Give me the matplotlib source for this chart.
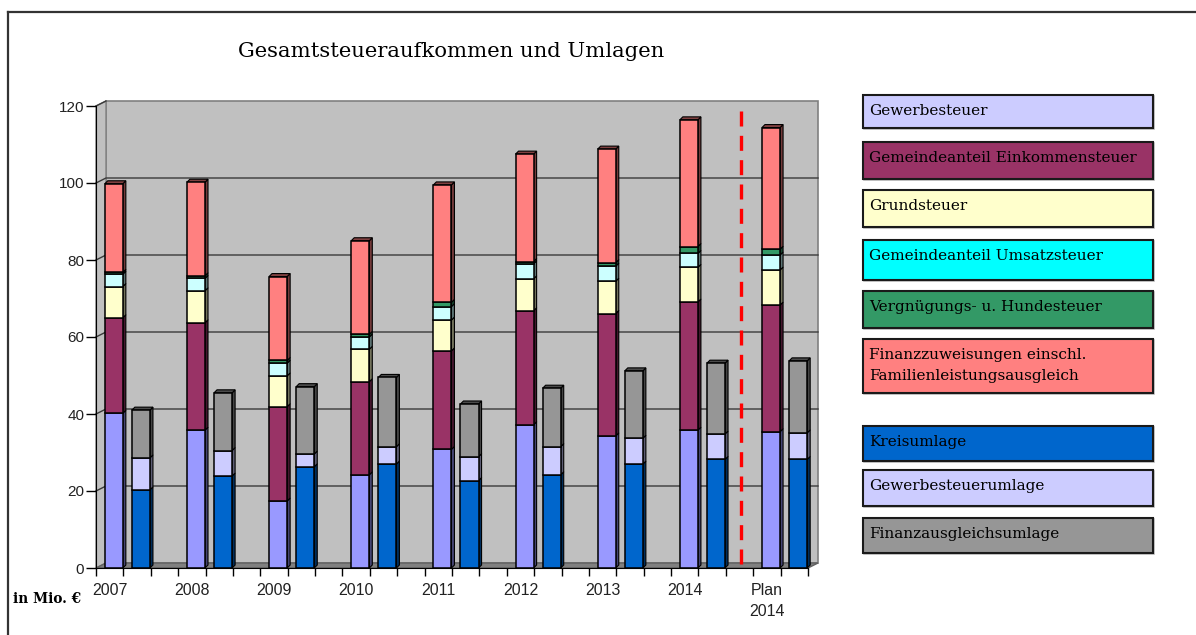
import matplotlib
matplotlib.use("Agg")
import matplotlib.pyplot as plt
from matplotlib.patches import Rectangle, Polygon
import numpy as np

# ---------------- data ----------------
years = ["2007", "2008", "2009", "2010", "2011", "2012", "2013", "2014", "Plan\n2014"]

gewerbesteuer = [40.2, 35.8, 17.4, 24.2, 30.8, 37.2, 34.3, 35.8, 35.4]
einkommensteuer = [24.8, 27.9, 24.5, 24.2, 25.6, 29.6, 31.8, 33.3, 32.9]
grundsteuer = [8.1, 8.3, 8.0, 8.4, 8.0, 8.3, 8.4, 9.0, 9.1]
umsatzsteuer = [3.2, 3.2, 3.3, 3.2, 3.5, 3.9, 3.9, 3.6, 3.9]
vergnuegung_hund = [0.5, 0.7, 0.7, 0.7, 1.1, 0.6, 0.9, 1.8, 1.5]
finanzzuweisungen = [23.0, 24.3, 21.8, 24.3, 30.5, 27.9, 29.5, 32.9, 31.6]

kreisumlage = [20.3, 23.9, 26.3, 27.0, 22.7, 24.2, 27.0, 28.2, 28.2]
gewerbesteuerumlage = [8.3, 6.6, 3.3, 4.5, 6.2, 7.3, 6.7, 6.6, 6.9]
finanzausgleichsumlage = [12.4, 15.0, 17.5, 18.0, 13.7, 15.2, 17.5, 18.4, 18.7]

tax_series = [
    ("Gewerbesteuer", gewerbesteuer, "#9999FF", "#CCCCFF"),
    ("Gemeindeanteil Einkommensteuer", einkommensteuer, "#993366", "#993366"),
    ("Grundsteuer", grundsteuer, "#FFFFCC", "#FFFFCC"),
    ("Gemeindeanteil Umsatzsteuer", umsatzsteuer, "#CCFFFF", "#00FFFF"),
    ("Vergnügungs- u. Hundesteuer", vergnuegung_hund, "#339966", "#339966"),
    ("Finanzzuweisungen einschl.\nFamilienleistungsausgleich", finanzzuweisungen, "#FF8080", "#FF8080"),
]
umlage_series = [
    ("Kreisumlage", kreisumlage, "#0066CC", "#0066CC"),
    ("Gewerbesteuerumlage", gewerbesteuerumlage, "#CCCCFF", "#CCCCFF"),
    ("Finanzausgleichsumlage", finanzausgleichsumlage, "#969696", "#969696"),
]

y_ticks = [0, 20, 40, 60, 80, 100, 120]

# ---------------- layout ----------------
W, H = 1196, 635
fig = plt.figure(figsize=(W / 100, H / 100), dpi=100)

ax_l, ax_r, ax_b, ax_t = 96, 808, 568, 106  # pixel frame of front plane
ax = fig.add_axes([ax_l / W, (H - ax_b) / H, (ax_r - ax_l) / W, (ax_b - ax_t) / H])
n_slots = 3 * len(years) - 1
ax.set_xlim(0, n_slots)
ax.set_ylim(0, 120)
px_x = (ax_r - ax_l) / n_slots
px_y = (ax_b - ax_t) / 120.0

# wall depth
wdx, wdy = 10 / px_x, 5 / px_y
# bar depth
bdx, bdy = 3 / px_x, 3 / px_y

wall_c = "#C0C0C0"
wall_edge = "#808080"
# back wall
ax.add_patch(Polygon([(wdx, wdy), (n_slots + wdx, wdy), (n_slots + wdx, 120 + wdy), (wdx, 120 + wdy)],
                     closed=True, facecolor=wall_c, edgecolor=wall_edge, lw=1.2, clip_on=False, zorder=0))
# side wall
ax.add_patch(Polygon([(0, 0), (wdx, wdy), (wdx, 120 + wdy), (0, 120)],
                     closed=True, facecolor=wall_c, edgecolor=wall_edge, lw=1.0, clip_on=False, zorder=0))
# floor
ax.add_patch(Polygon([(0, 0), (n_slots, 0), (n_slots + wdx, wdy), (wdx, wdy)],
                     closed=True, facecolor="#808080", edgecolor="#606060", lw=1.0, clip_on=False, zorder=0.5))
# gridlines
for v in y_ticks[1:-1]:
    ax.plot([0, wdx, n_slots + wdx], [v, v + wdy, v + wdy], color="#3a3a3a", lw=1.0, clip_on=False, zorder=0.6)
ax.plot([0, wdx], [120, 120 + wdy], color="#3a3a3a", lw=1.0, clip_on=False, zorder=0.6)


def shade(c, f):
    rgb = np.array(matplotlib.colors.to_rgb(c))
    return tuple(rgb * f)


def draw_stack(xc, series):
    bw = 0.66
    x0 = xc - bw / 2
    x1 = xc + bw / 2
    bottom = 0.0
    top_color = None
    for v, col in series:
        y0, y1 = bottom, bottom + v
        ax.add_patch(Polygon([(x1, y0), (x1 + bdx, y0 + bdy), (x1 + bdx, y1 + bdy), (x1, y1)],
                             closed=True, facecolor=shade(col, 0.45), edgecolor="black", lw=0.8,
                             clip_on=False, zorder=2))
        ax.add_patch(Rectangle((x0, y0), bw, v, facecolor=col, edgecolor="black", lw=1.1,
                               clip_on=False, zorder=3))
        bottom = y1
        top_color = col
    ax.add_patch(Polygon([(x0, bottom), (x1, bottom), (x1 + bdx, bottom + bdy), (x0 + bdx, bottom + bdy)],
                         closed=True, facecolor=shade(top_color, 0.5), edgecolor="black", lw=0.8,
                         clip_on=False, zorder=2))


for k in range(len(years)):
    draw_stack(3 * k + 0.65, [(s[1][k], s[2]) for s in tax_series])
    draw_stack(3 * k + 1.64, [(s[1][k], s[2]) for s in umlage_series])

# red dashed separator
ax.plot([3 * (len(years) - 1) - 0.45] * 2, [1.0, 120.5], color="#FF0000", lw=2.4,
        dashes=(4.5, 2.8), zorder=1.5, clip_on=False)

# axes styling
for sp in ["top", "right"]:
    ax.spines[sp].set_visible(False)
ax.spines["left"].set_color("black")
ax.spines["bottom"].set_color("black")
ax.spines["left"].set_zorder(4)
ax.spines["bottom"].set_zorder(4)
ax.set_facecolor("none")
ax.set_yticks(y_ticks)
ax.set_yticklabels([str(v) for v in y_ticks], fontsize=11, family="Liberation Sans", color="#222222")
ax.tick_params(axis="y", direction="out", length=7, width=1, pad=1.5)
ax.set_xticks(range(n_slots + 1))
ax.set_xticklabels([])
ax.tick_params(axis="x", which="major", direction="out", length=5.5, width=1)
ax.set_xticks([3 * k + 0.5 for k in range(len(years))], minor=True)
ax.set_xticklabels(years, minor=True, fontsize=11.5, family="Liberation Sans",
                   color="#222222", linespacing=1.45, va="top")
ax.tick_params(axis="x", which="minor", length=0, pad=11)

# overlay axes for pixel placed items
ov = fig.add_axes([0, 0, 1, 1], zorder=-1)
ov.set_xlim(0, W)
ov.set_ylim(H, 0)
ov.axis("off")
ov.plot([8, W], [12, 12], color="#333333", lw=1.6)
ov.plot([8, 8], [12, H], color="#333333", lw=1.6)

fig.text(451 / W, 1 - 57 / H, "Gesamtsteueraufkommen und Umlagen", ha="center", va="baseline",
         fontsize=15.2, family="DejaVu Serif")
fig.text(13 / W, 1 - 603 / H, "in Mio. €", ha="left", va="baseline", fontsize=9.8,
         family="DejaVu Serif", fontweight="bold")

# legend boxes
boxes = [(95, 128), (142, 179), (190, 227), (240, 280), (291, 328), (339, 393),
         (426, 461), (470, 506), (518, 553)]
leg_items = [(s[0], s[3]) for s in tax_series] + [(s[0], s[3]) for s in umlage_series]
lax = fig.add_axes([0, 0, 1, 1], zorder=5)
lax.set_xlim(0, W)
lax.set_ylim(H, 0)
lax.axis("off")
for (t, b), (name, col) in zip(boxes, leg_items):
    lax.add_patch(Rectangle((864, t + 1), 290, b - t, facecolor="none", edgecolor="#BBBBBB", lw=1.2))
    lax.add_patch(Rectangle((863, t), 290, b - t, facecolor=col, edgecolor="#1a1a1a", lw=1.5))
    for i, line in enumerate(name.split("\n")):
        lax.text(869, t + 20 + 21 * i, line, ha="left", va="baseline", fontsize=11,
                 family="DejaVu Serif", color="black")

fig.savefig("out.png", dpi=100)
